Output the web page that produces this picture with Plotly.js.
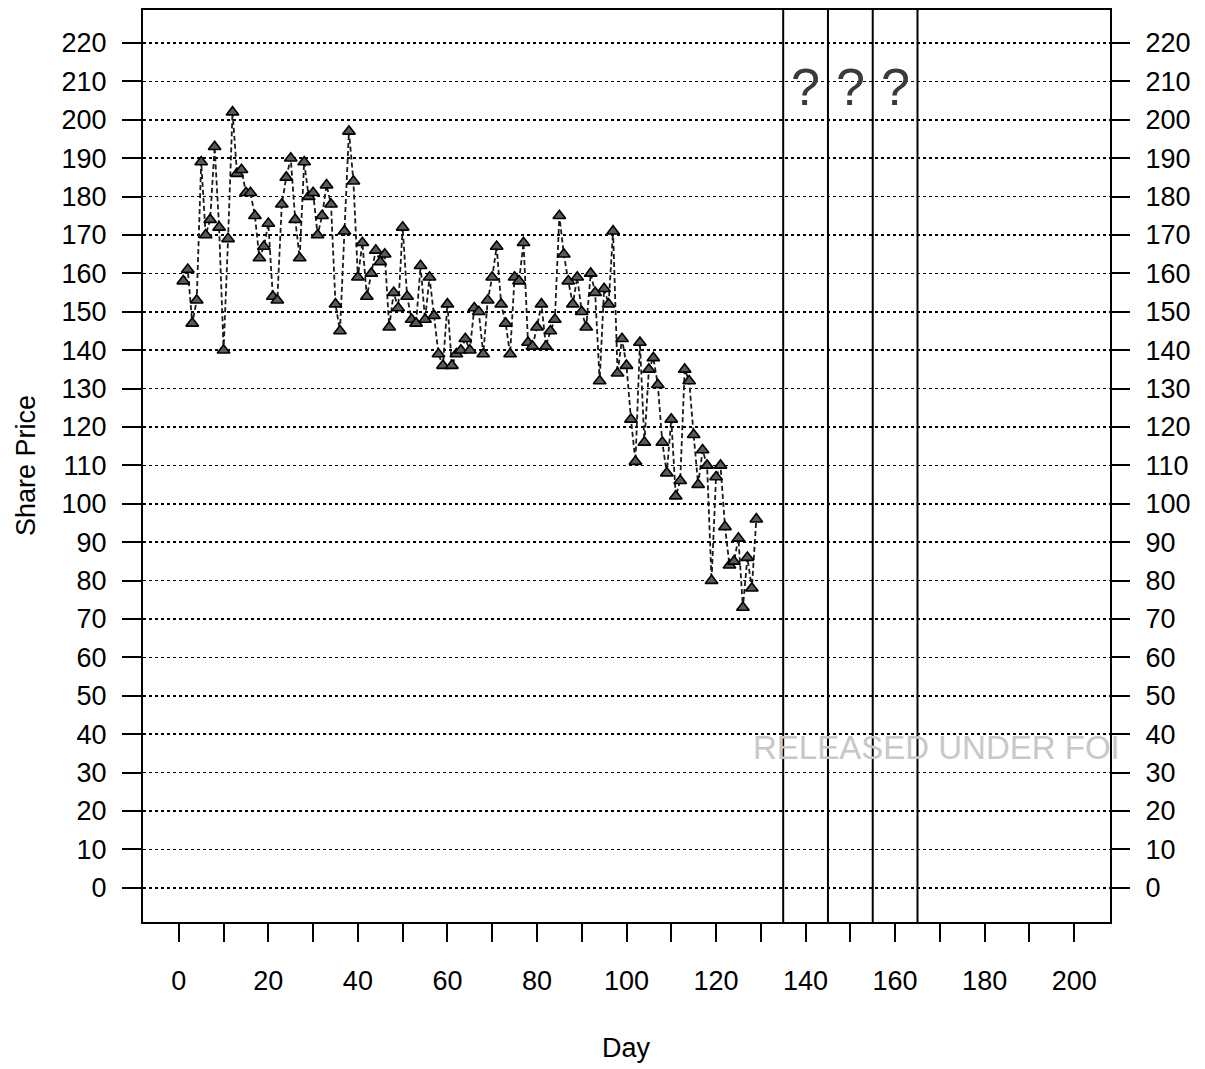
<!DOCTYPE html>
<html>
<head>
<meta charset="utf-8">
<script src="https://cdn.plot.ly/plotly-3.0.1.min.js"></script>
<style>
html,body{margin:0;padding:0;background:#fff;}
#chart{width:1205px;height:1069px;}
</style>
</head>
<body>
<div id="chart"></div>
<script>
// Day numbers of observed share prices
const days = [];
for (let d = 1; d <= 129; d++) days.push(d);

// Share prices (one per day)
const prices = [
  158,161,147,153,189,170,174,193,172,140,
  169,202,186,187,181,181,175,164,167,173,
  154,153,178,185,190,174,164,189,180,181,
  170,175,183,178,152,145,171,197,184,159,
  168,154,160,166,163,165,146,155,151,172,
  154,148,147,162,148,159,149,139,136,152,
  136,139,140,143,140,151,150,139,153,159,
  167,152,147,139,159,158,168,142,141,146,
  152,141,145,148,175,165,158,152,159,150,
  146,160,155,132,156,152,171,134,143,136,
  122,111,142,116,135,138,131,116,108,122,
  102,106,135,132,118,105,114,110,80,107,
  110,94,84,85,91,73,86,78,96
];

// Unknown future periods marked with vertical boundaries and question marks
const boundaryDays = [135, 145, 155, 165];
const questionDays = [140, 150, 160];
const questionLabel = "?";

const xTickVals = [];
const xTickText = [];
for (let v = 0; v <= 200; v += 10) { xTickVals.push(v); xTickText.push(v % 20 === 0 ? String(v) : ""); }
const yTickVals = [];
for (let v = 0; v <= 220; v += 10) yTickVals.push(v);

const xTitle = "Day";
const yTitle = "Share Price";
const watermark = "RELEASED UNDER FOI";

const FONT = "Liberation Sans, Arial, sans-serif";
const FS = 27;

const trace = {
  x: days, y: prices, type: "scatter", mode: "lines+markers",
  line: {color: "#1a1a1a", width: 1.8, dash: "5px,3px"},
  marker: {symbol: "triangle-up", size: 11, color: "#5a5a5a", line: {color: "#000", width: 1.6}},
  showlegend: false, hoverinfo: "x+y"
};
const dummyRight = {x: [0], y: [0], yaxis: "y2", type: "scatter", mode: "markers",
  marker: {opacity: 0}, showlegend: false, hoverinfo: "skip"};

const yRange = [-8.9, 228.6];

const shapes = boundaryDays.map(d => ({
  type: "line", xref: "x", yref: "paper", x0: d, x1: d, y0: 0, y1: 1,
  line: {color: "#000", width: 2}
}));

const annotations = questionDays.map(d => ({
  x: d, y: 208.5, xref: "x", yref: "y", text: questionLabel, showarrow: false,
  font: {family: FONT, size: 52, color: "#3a3a3a"}
}));
annotations.push({
  x: 169.2, y: 36.5, xref: "x", yref: "y", text: watermark, showarrow: false,
  font: {family: FONT, size: 33, color: "#c8c8c8"}
});
annotations.push({
  x: 0.5, y: 0, xref: "paper", yref: "paper", yshift: -143, text: xTitle, showarrow: false,
  font: {family: FONT, size: FS, color: "#000"}
});
annotations.push({
  x: 0, y: 0.5, xref: "paper", yref: "paper", xshift: -134, text: yTitle, showarrow: false,
  textangle: -90, font: {family: FONT, size: FS, color: "#000"}
});

const layout = {
  width: 1205, height: 1069,
  margin: {l: 143, r: 95, t: 10, b: 147, pad: 0},
  paper_bgcolor: "#fff", plot_bgcolor: "#fff",
  font: {family: FONT, size: FS, color: "#000"},
  showlegend: false,
  xaxis: {
    range: [-8, 208], tickmode: "array", tickvals: xTickVals, ticktext: xTickText,
    ticks: "outside", ticklen: 18, tickwidth: 2, tickcolor: "#000",
    showline: true, linecolor: "#000", linewidth: 2, mirror: true,
    showgrid: false, zeroline: false, ticklabelstandoff: 16,
    tickfont: {family: FONT, size: FS, color: "#000"}
  },
  yaxis: {
    range: yRange, tickmode: "array", tickvals: yTickVals,
    ticks: "outside", ticklen: 19, tickwidth: 2, tickcolor: "#000",
    showline: true, linecolor: "#000", linewidth: 2, mirror: true,
    showgrid: true, gridcolor: "#000", gridwidth: 1.6, griddash: "3px,3px",
    zeroline: false, ticklabelstandoff: 10,
    tickfont: {family: FONT, size: FS, color: "#000"}
  },
  yaxis2: {
    range: yRange, overlaying: "y", side: "right", tickmode: "array", tickvals: yTickVals,
    ticks: "outside", ticklen: 19, tickwidth: 2, tickcolor: "#000",
    showline: false, showgrid: false, zeroline: false, ticklabelstandoff: 10,
    tickfont: {family: FONT, size: FS, color: "#000"}
  },
  shapes: shapes,
  annotations: annotations
};

Plotly.newPlot("chart", [trace, dummyRight], layout, {displayModeBar: false, staticPlot: true});
</script>
</body>
</html>
